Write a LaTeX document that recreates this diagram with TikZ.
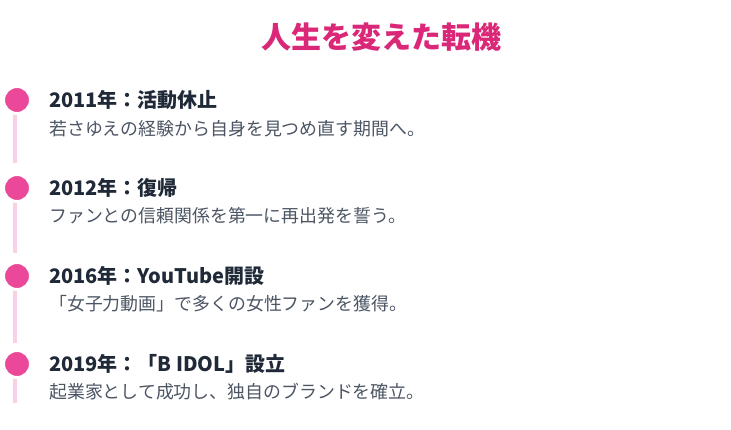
\documentclass[tikz,border=0pt]{standalone}
\usepackage{fontspec}
\setmainfont{Noto Sans CJK JP}
\usepackage{tikz}
\usetikzlibrary{positioning}
\usetikzlibrary{calc}

\definecolor{titlepink}{HTML}{DB2777}
\definecolor{dotpink}{HTML}{EC4899}
\definecolor{linepink}{HTML}{FBCFE8}
\definecolor{headgray}{HTML}{1F2937}
\definecolor{bodygray}{HTML}{4B5563}

\begin{document}
\begin{tikzpicture}[x=1pt,y=-1pt,
  dot/.style={circle,fill=dotpink,draw=white,line width=3pt,minimum size=27pt,inner sep=0pt},
  tline/.style={draw=linepink,line width=4pt},
  head/.style={anchor=west,inner sep=0pt,text=headgray,font=\fontsize{20}{24}\selectfont\bfseries},
  body/.style={anchor=west,inner sep=0pt,text=bodygray,font=\fontsize{17.9}{21}\selectfont}]
\useasboundingbox (0,0) rectangle (731,430);

\node[text=titlepink,font=\fontsize{30}{36}\selectfont\bfseries] (title) at (381,37) {人生を変えた転機};

\coordinate (s1) at (15,100);
\coordinate (e1) at (15,163);
\coordinate (s2) at (15,188);
\coordinate (e2) at (15,253);
\coordinate (s3) at (15,276);
\coordinate (e3) at (15,343);
\coordinate (s4) at (15,364);
\coordinate (e4) at (15,403);

\draw[tline] (s1) -- (e1);
\draw[tline] (s2) -- (e2);
\draw[tline] (s3) -- (e3);
\draw[tline] (s4) -- (e4);

\node[dot] (d1) at (17,100) {};
\node[dot] (d2) at (17,188) {};
\node[dot] (d3) at (17,276) {};
\node[dot] (d4) at (17,364) {};

\node[head] (h1) at (49,100) {2011年：活動休止};
\node[body] (b1) at (49,129) {若さゆえの経験から自身を見つめ直す期間へ。};

\node[head] (h2) at (49,188) {2012年：復帰};
\node[body] (b2) at (49,216) {ファンとの信頼関係を第一に再出発を誓う。};

\node[head] (h3) at (49,276) {2016年：YouTube開設};
\node[body] (b3) at (49,304) {「女子力動画」で多くの女性ファンを獲得。};

\node[head] (h4) at (49,364) {2019年：「B IDOL」設立};
\node[body] (b4) at (49,392) {起業家として成功し、独自のブランドを確立。};
\end{tikzpicture}
\end{document}
